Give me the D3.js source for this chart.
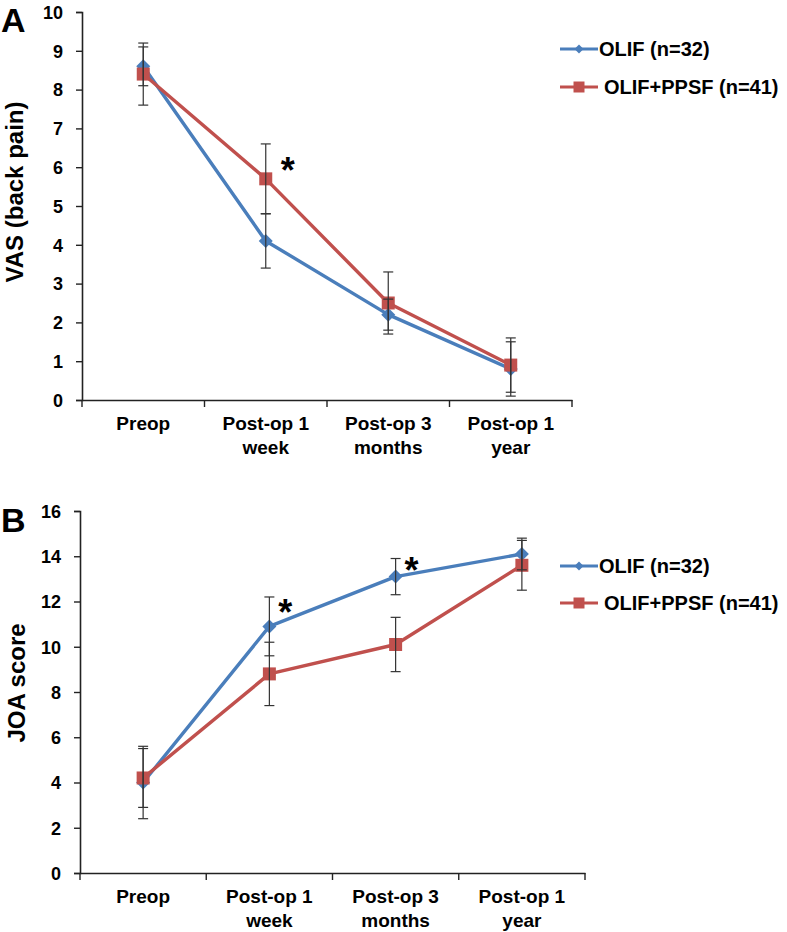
<!DOCTYPE html>
<html><head><meta charset="utf-8">
<script src="https://cdn.jsdelivr.net/npm/d3@7"></script>
<style>body{margin:0;background:#fff}svg{display:block}text{font-family:"Liberation Sans",Arial,sans-serif;font-weight:bold;fill:#000}</style>
</head><body>
<script>
const categories = [["Preop"], ["Post-op 1", "week"], ["Post-op 3", "months"], ["Post-op 1", "year"]];
const seriesNames = ["OLIF (n=32)", "OLIF+PPSF (n=41)"];
// Panel A: VAS (back pain)
const vasOLIF = [8.6, 4.1, 2.2, 0.8];
const vasOLIFsd = [0.5, 0.7, 0.4, 0.7];
const vasPPSF = [8.4, 5.7, 2.5, 0.9];
const vasPPSFsd = [0.8, 0.9, 0.8, 0.7];
const vasTicks = [0,1,2,3,4,5,6,7,8,9,10];
const vasStars = [{cat:1, value:6.1}];
// Panel B: JOA score
const joaOLIF = [4.0, 10.9, 13.1, 14.1];
const joaOLIFsd = [1.6, 1.3, 0.8, 0.7];
const joaPPSF = [4.2, 8.8, 10.1, 13.6];
const joaPPSFsd = [1.3, 1.4, 1.2, 1.1];
const joaTicks = [0,2,4,6,8,10,12,14,16];
const joaStars = [{cat:1, value:11.85}, {cat:2, value:13.7}];

const W = 787, H = 932;
const colors = ["#4A7EBB", "#C0504D"];
const svg = d3.select("body").append("svg").attr("width", W).attr("height", H);

function panel(opt) {
  const g = svg.append("g");
  const x = d3.scaleBand().domain(d3.range(categories.length)).range([opt.left, opt.right]);
  const y = d3.scaleLinear().domain([0, d3.max(opt.ticks)]).range([opt.bottom, opt.top]);
  const cx = i => x(i) + x.bandwidth() / 2;

  // axes
  const ya = g.append("g").attr("transform", `translate(${opt.left},0)`)
    .call(d3.axisLeft(y).tickValues(opt.ticks).tickSize(6).tickPadding(13));
  ya.selectAll("text").style("font-size", "18px").attr("dy", "0.35em");
  const xa = g.append("g").attr("transform", `translate(0,${opt.bottom})`)
    .call(d3.axisBottom(x).tickValues([]).tickSizeOuter(0));
  [ya, xa].forEach(a => { a.select(".domain").attr("stroke", "#222").attr("stroke-width", 1.6); a.selectAll("line").attr("stroke", "#222").attr("stroke-width", 1.4); });
  // category separator ticks on x axis
  xa.selectAll(".sep").data(d3.range(categories.length + 1)).enter().append("line")
    .attr("x1", i => i < categories.length ? x(i) : opt.right).attr("x2", i => i < categories.length ? x(i) : opt.right)
    .attr("y1", 0).attr("y2", 7).attr("stroke", "#222").attr("stroke-width", 1.4);
  // category labels
  categories.forEach((lines, i) => {
    const t = xa.append("text").attr("text-anchor", "middle").style("font-size", "19px").style("fill", "#000");
    lines.forEach((l, k) => t.append("tspan").attr("x", cx(i)).attr("y", 30 + k * 24).text(l));
  });

  // y title
  g.append("text").attr("transform", `translate(${opt.titleX},${(opt.top + opt.bottom) / 2 + opt.titleDy}) rotate(-90)`)
    .attr("text-anchor", "middle").style("font-size", "24px").text(opt.title);
  // panel letter
  g.append("text").attr("x", 1).attr("y", opt.letterY).style("font-size", "34px").text(opt.letter);

  const series = [
    {vals: opt.s1, sd: opt.sd1, shape: "diamond"},
    {vals: opt.s2, sd: opt.sd2, shape: "square"}
  ];
  const line = d3.line().x((d, i) => cx(i)).y(d => y(d));
  series.forEach((s, si) => {
    g.append("path").datum(s.vals).attr("d", line).attr("fill", "none")
      .attr("stroke", colors[si]).attr("stroke-width", 3.4).attr("stroke-linejoin", "round");
    g.selectAll(null).data(s.vals).enter().append("path")
      .attr("transform", (d, i) => `translate(${cx(i)},${y(d)})`)
      .attr("d", s.shape === "diamond" ? "M0,-7L7,0L0,7L-7,0Z" : "M-6.5,-6.5H6.5V6.5H-6.5Z")
      .attr("fill", colors[si]);
  });
  // error bars on top
  series.forEach((s) => {
    const eb = g.selectAll(null).data(s.vals.map((v, i) => ({i, v, e: s.sd[i]}))).enter().append("g")
      .attr("stroke", "#333").attr("stroke-width", 1.2);
    eb.append("line").attr("x1", d => cx(d.i)).attr("x2", d => cx(d.i)).attr("y1", d => y(d.v + d.e)).attr("y2", d => y(d.v - d.e));
    eb.append("line").attr("x1", d => cx(d.i) - 5).attr("x2", d => cx(d.i) + 5).attr("y1", d => y(d.v + d.e)).attr("y2", d => y(d.v + d.e));
    eb.append("line").attr("x1", d => cx(d.i) - 5).attr("x2", d => cx(d.i) + 5).attr("y1", d => y(d.v - d.e)).attr("y2", d => y(d.v - d.e));
  });
  // significance stars
  g.selectAll(null).data(opt.stars).enter().append("text")
    .attr("x", d => cx(d.cat) + opt.starDx).attr("y", d => y(d.value) + 20)
    .attr("text-anchor", "middle").style("font-size", "36px").text("*");

  // legend
  seriesNames.forEach((n, si) => {
    const ly = opt.legendY[si];
    const lg = g.append("g").attr("transform", `translate(560,${ly})`);
    lg.append("line").attr("x1", 0).attr("x2", 38).attr("stroke", colors[si]).attr("stroke-width", 3);
    lg.append("path").attr("transform", "translate(19,0)")
      .attr("d", si === 0 ? "M0,-4.5L4.5,0L0,4.5L-4.5,0Z" : "M-5.5,-5.5H5.5V5.5H-5.5Z").attr("fill", colors[si]);
    lg.append("text").attr("x", si === 0 ? 39 : 44).attr("y", 7).style("font-size", "20px").text(n);
  });
}

panel({left: 82, right: 572, top: 12, bottom: 400, ticks: vasTicks, s1: vasOLIF, sd1: vasOLIFsd, s2: vasPPSF, sd2: vasPPSFsd,
  stars: vasStars, starDx: 22, title: "VAS (back pain)", titleX: 23, titleDy: -14, letter: "A", letterY: 32, legendY: [49, 87]});
panel({left: 80, right: 585, top: 511, bottom: 873, ticks: joaTicks, s1: joaOLIF, sd1: joaOLIFsd, s2: joaPPSF, sd2: joaPPSFsd,
  stars: joaStars, starDx: 16, title: "JOA score", titleX: 25, titleDy: -9, letter: "B", letterY: 532, legendY: [566, 603]});
</script>
</body></html>
